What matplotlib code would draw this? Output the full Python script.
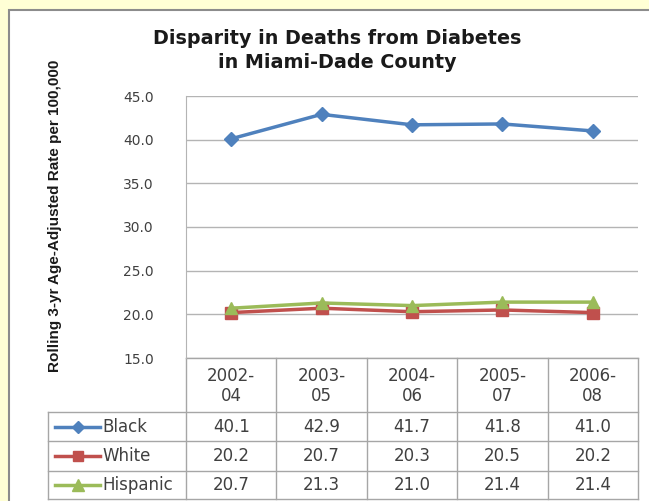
import matplotlib
matplotlib.use("Agg")
import matplotlib.pyplot as plt
from matplotlib.patches import Rectangle
from matplotlib.lines import Line2D

# data
periods = ["2002-\n04", "2003-\n05", "2004-\n06", "2005-\n07", "2006-\n08"]
series_names = ["Black", "White", "Hispanic"]
black = [40.1, 42.9, 41.7, 41.8, 41.0]
white = [20.2, 20.7, 20.3, 20.5, 20.2]
hispanic = [20.7, 21.3, 21.0, 21.4, 21.4]
yticks = [15.0, 20.0, 25.0, 30.0, 35.0, 40.0, 45.0]

colors = ["#4F81BD", "#C0504D", "#9BBB59"]
markers = ["D", "s", "^"]
msizes = [7, 8, 9]
values = [black, white, hispanic]

W, H = 649, 501
fig = plt.figure(figsize=(W / 100, H / 100), dpi=100)
fig.patch.set_facecolor("#FFFFD5")

# overlay axes in pixel coordinates for panel + table
bg = fig.add_axes([0, 0, 1, 1])
bg.set_xlim(0, W)
bg.set_ylim(H, 0)
bg.axis("off")
bg.add_patch(Rectangle((9, 10), W + 5, H, facecolor="white",
                       edgecolor="#8C8C8C", linewidth=1.5))

# plot area
left, right, top, bottom = 186, 638, 96, 358
ax = fig.add_axes([left / W, 1 - bottom / H, (right - left) / W, (bottom - top) / H])
ax.set_facecolor("none")
x = list(range(len(periods)))
for vals, c, m, ms in zip(values, colors, markers, msizes):
    ax.plot(x, vals, color=c, marker=m, markersize=ms, linewidth=2.5,
            markeredgecolor=c, clip_on=False, zorder=3)
ax.set_xlim(-0.5, len(periods) - 0.5)
ax.set_ylim(15, 45)
ax.set_yticks(yticks)
ax.set_yticklabels([f"{v:.1f}" for v in yticks], fontsize=10, color="#404040")
ax.tick_params(axis="y", length=0, pad=23)
ax.set_xticks([])
ax.grid(axis="y", color="#B4B4B4", linewidth=1)
for s in ["top", "right", "bottom"]:
    ax.spines[s].set_visible(False)
ax.spines["left"].set_color("#B4B4B4")

# title and y label
fig.text(337 / W, 1 - 38 / H, "Disparity in Deaths from Diabetes", ha="center",
         va="center", fontsize=13.8, fontweight="bold", color="#1a1a1a")
fig.text(337 / W, 1 - 63 / H, "in Miami-Dade County", ha="center",
         va="center", fontsize=13.8, fontweight="bold", color="#1a1a1a")
fig.text(55 / W, 1 - 216 / H, "Rolling 3-yr Age-Adjusted Rate per 100,000",
         rotation=90, ha="center", va="center", fontsize=11, fontweight="bold",
         family=["Liberation Sans", "DejaVu Sans"], color="#1a1a1a")

# data table
gc = "#A6A6A6"
colw = (right - left) / len(periods)
row_y = [358, 412, 441, 471, 499]
tleft = 48
for i in range(len(periods) + 1):
    bg.plot([left + i * colw] * 2, [row_y[0], row_y[-1]], color=gc, lw=1)
bg.plot([tleft, tleft], [row_y[1], row_y[-1]], color=gc, lw=1)
bg.plot([left, right], [row_y[0], row_y[0]], color=gc, lw=1)
for yy in row_y[1:]:
    bg.plot([tleft, right], [yy, yy], color=gc, lw=1)
for i, p in enumerate(periods):
    bg.text(left + (i + 0.5) * colw, (row_y[0] + row_y[1]) / 2 + 1, p, ha="center",
            va="center", fontsize=12, color="#404040", linespacing=1.15)
for r, (name, vals, c, m, ms) in enumerate(zip(series_names, values, colors, markers, msizes)):
    yc = (row_y[r + 1] + row_y[r + 2]) / 2
    bg.add_line(Line2D([55, 100], [yc, yc], color=c, lw=2.5))
    bg.add_line(Line2D([77.5], [yc], color=c, marker=m, markersize=ms - 1,
                       markeredgecolor=c))
    bg.text(102, yc, name, ha="left", va="center", fontsize=12, color="#404040")
    for i, v in enumerate(vals):
        bg.text(left + (i + 0.5) * colw, yc, f"{v:.1f}", ha="center", va="center",
                fontsize=12, color="#404040")

fig.savefig("out.png", dpi=100, facecolor=fig.get_facecolor())
